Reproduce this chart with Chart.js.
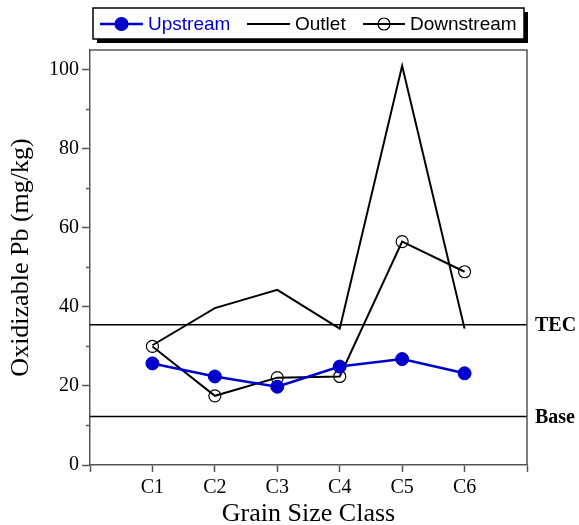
<!DOCTYPE html>
<html>
<head>
<meta charset="utf-8">
<script src="https://cdn.jsdelivr.net/npm/chart.js@4.4.0/dist/chart.umd.min.js"></script>
<style>
  html, body { margin: 0; padding: 0; background: #fff; }
  #wrap { width: 579px; height: 525px; }
</style>
</head>
<body>
<div id="wrap"><canvas id="chart" width="579" height="525"></canvas></div>
<script>
// values
const categories = ['C1', 'C2', 'C3', 'C4', 'C5', 'C6'];
const upstream = [25.7, 22.4, 19.8, 24.9, 26.8, 23.2];
const outlet = [30.3, 39.7, 44.3, 34.5, 101.0, 34.5];
const downstream = [30.0, 17.5, 22.1, 22.4, 56.5, 48.9];
const yTicks = [0, 20, 40, 60, 80, 100];
const yMinorTicks = [10, 30, 50, 70, 90];
const thresholdNames = ['TEC', 'Base'];
const thresholdValues = [35.5, 12.3];

const BLUE = '#0000cc';
const SERIF = '"Liberation Serif", "Times New Roman", serif';
const SANS = '"Liberation Sans", Arial, sans-serif';
const AXIS = '#555';

function toPoints(vals) {
    return vals.map((v, i) => ({ x: i + 1, y: v }));
}

const thresholdSets = thresholdValues.map((v, i) => ({
    label: thresholdNames[i],
    data: [{ x: 0, y: v }, { x: categories.length + 1, y: v }],
    borderColor: '#000',
    borderWidth: 1.5,
    pointRadius: 0
}));

// frame, minor ticks, threshold labels and the boxed legend
const decorPlugin = {
    id: 'decor',
    afterDraw(chart) {
        const ctx = chart.ctx;
        const area = chart.chartArea;
        const y = chart.scales.y;
        ctx.save();

        ctx.strokeStyle = AXIS;
        ctx.lineWidth = 1.5;
        ctx.beginPath();
        ctx.moveTo(area.left, area.top);
        ctx.lineTo(area.right, area.top);
        ctx.lineTo(area.right, area.bottom);
        ctx.stroke();

        ctx.beginPath();
        yMinorTicks.forEach(v => {
            const py = Math.round(y.getPixelForValue(v)) + 0.5;
            ctx.moveTo(area.left - 4, py);
            ctx.lineTo(area.left, py);
        });
        ctx.stroke();

        ctx.fillStyle = '#000';
        ctx.font = 'bold 20px ' + SERIF;
        ctx.textBaseline = 'middle';
        ctx.textAlign = 'left';
        thresholdValues.forEach((v, i) => {
            ctx.fillText(thresholdNames[i], area.right + 8, y.getPixelForValue(v) + 1);
        });

        // legend box with drop shadow
        const bx = 93, by = 8, bw = 431, bh = 31;
        ctx.fillStyle = '#000';
        ctx.fillRect(bx + 4, by + 4, bw, bh);
        ctx.fillStyle = '#fff';
        ctx.fillRect(bx, by, bw, bh);
        ctx.strokeStyle = '#000';
        ctx.lineWidth = 1.5;
        ctx.strokeRect(bx, by, bw, bh);

        const items = [
            { ds: chart.data.datasets[0], x0: 100, x1: 143, tx: 148 },
            { ds: chart.data.datasets[1], x0: 247, x1: 290, tx: 295 },
            { ds: chart.data.datasets[2], x0: 363, x1: 405, tx: 410 }
        ];
        const ly = 24;
        ctx.font = '19px ' + SANS;
        items.forEach(it => {
            ctx.strokeStyle = it.ds.borderColor;
            ctx.lineWidth = it.ds.borderWidth;
            ctx.beginPath();
            ctx.moveTo(it.x0, ly);
            ctx.lineTo(it.x1, ly);
            ctx.stroke();
            if (it.ds.pointRadius > 0) {
                ctx.beginPath();
                ctx.arc((it.x0 + it.x1) / 2, ly, it.ds.pointRadius, 0, Math.PI * 2);
                ctx.fillStyle = it.ds.pointBackgroundColor;
                ctx.fill();
                ctx.lineWidth = 1.2;
                ctx.strokeStyle = it.ds.pointBorderColor;
                ctx.stroke();
            }
            ctx.fillStyle = it.ds.legendColor;
            ctx.fillText(it.ds.label, it.tx, ly + 1);
        });
        ctx.restore();
    }
};

new Chart(document.getElementById('chart').getContext('2d'), {
    type: 'line',
    data: {
        datasets: [{
            label: 'Upstream',
            data: toPoints(upstream),
            borderColor: BLUE,
            borderWidth: 2.5,
            pointRadius: 6.5,
            pointBackgroundColor: BLUE,
            pointBorderColor: BLUE,
            pointBorderWidth: 1,
            legendColor: BLUE
        }, {
            label: 'Outlet',
            data: toPoints(outlet),
            borderColor: '#000',
            borderWidth: 2,
            pointRadius: 0,
            legendColor: '#000'
        }, {
            label: 'Downstream',
            data: toPoints(downstream),
            borderColor: '#000',
            borderWidth: 2,
            pointRadius: 6,
            pointBackgroundColor: 'rgba(0,0,0,0)',
            pointBorderColor: '#000',
            pointBorderWidth: 1.2,
            legendColor: '#000'
        }].concat(thresholdSets)
    },
    options: {
        responsive: false,
        animation: false,
        layout: { padding: { left: 0, top: 50, right: 52, bottom: 0 } },
        plugins: {
            legend: { display: false },
            tooltip: { enabled: false }
        },
        scales: {
            x: {
                type: 'linear',
                min: 0,
                max: categories.length + 1,
                afterBuildTicks: s => {
                    s.ticks = [0, 1, 2, 3, 4, 5, 6, 7].map(v => ({ value: v }));
                },
                afterFit: s => { s.height = 60; },
                ticks: {
                    autoSkip: false,
                    maxRotation: 0,
                    padding: 4,
                    color: '#000',
                    font: { family: SERIF, size: 20 },
                    callback: v => categories[v - 1] || ''
                },
                grid: {
                    drawOnChartArea: false,
                    drawTicks: true,
                    tickLength: 7,
                    tickColor: AXIS,
                    tickWidth: 1.5
                },
                border: { display: true, color: AXIS, width: 1.5 },
                title: {
                    display: true,
                    text: 'Grain Size Class',
                    color: '#000',
                    font: { family: SERIF, size: 26, lineHeight: 0.85 },
                    padding: { top: 0, bottom: 0 }
                }
            },
            y: {
                min: 0,
                max: 105,
                afterBuildTicks: s => {
                    s.ticks = yTicks.map(v => ({ value: v }));
                },
                afterFit: s => { s.width = 90; },
                ticks: {
                    padding: 3,
                    color: '#000',
                    font: { family: SERIF, size: 20 }
                },
                grid: {
                    drawOnChartArea: false,
                    drawTicks: true,
                    tickLength: 8,
                    tickColor: AXIS,
                    tickWidth: 1.5
                },
                border: { display: true, color: AXIS, width: 1.5 },
                title: {
                    display: true,
                    text: 'Oxidizable Pb (mg/kg)',
                    color: '#000',
                    font: { family: SERIF, size: 26 },
                    padding: { top: 6, bottom: 0 }
                }
            }
        }
    },
    plugins: [decorPlugin]
});
</script>
</body>
</html>
